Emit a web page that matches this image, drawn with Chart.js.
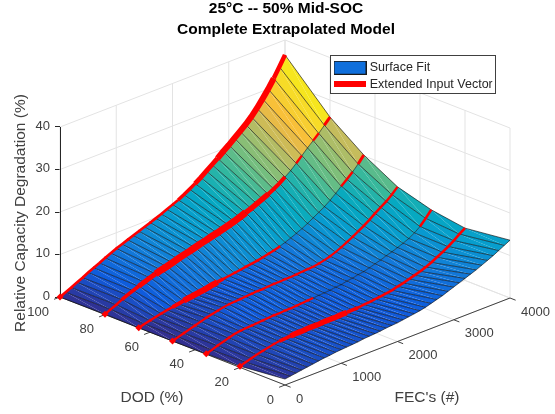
<!DOCTYPE html>
<html><head><meta charset="utf-8">
<style>html,body{margin:0;padding:0;background:#fff}canvas{display:block}</style>
<script src="https://cdn.jsdelivr.net/npm/chart.js@4"></script>
</head><body><canvas id="c" width="555" height="414"></canvas>
<script>
// ---- data ----
const fecGrid=[0,100,200,300,400,500,600,700,800,900,1000,1100,1200,1300,1400,1500,1600,1700,1800,1900,2000,2100,2200,2300,2400,2500,2600,2700,2800,2900,3000,3100,3200,3300,3400,3500,3600,3700,3800,3900,4000];
const dodGrid=[100,80,65,50,35,20,0];
const z100=[0,.6,1.2,1.9,2.5,3.2,3.8,4.4,5.1,5.7,6.3,6.8,7.3,7.8,8.3,8.8,9.3,9.8,10.3,10.9,11.5,12.1,12.8,13.6,14.4,15.3,16.3,17.3,18.3,19.4,20.4,21.5,22.6,23.7,25,26.5,28.2,30,32,34.2,36.5];
const z80=[.1,.7,1.3,2,2.6,3.1,3.6,4.1,4.6,5,5.4,5.7,6.1,6.5,6.9,7.2,7.6,8,8.3,8.7,9,9.4,9.8,10.2,10.7,11.2,11.7,12.3,12.9,13.5,14.2,15,16,17,18.2,19.5,20.8,22,23.2,24.6,26];
const z65=[0,.4,.7,1,1.3,1.6,1.8,2,2.3,2.5,2.7,2.9,3.1,3.4,3.6,3.8,4,4.2,4.4,4.6,4.8,5,5.3,5.6,5.9,6.3,6.8,7.3,7.9,8.5,9.2,10,10.8,11.6,12.6,13.7,14.9,16,17.2,18.6,20.2];
const z50=[0,.4,.8,1.2,1.6,2,2.4,2.7,3,3.3,3.5,3.6,3.7,3.8,3.9,4,4,4.1,4.2,4.2,4.3,4.3,4.4,4.5,4.6,4.7,4.9,5.2,5.6,6.1,6.7,7.4,8.1,8.9,9.7,10.6,11.6,12.5,13.4,14.5,15.8];
const z35=[.1,.5,1,1.4,1.8,2.2,2.4,2.5,2.6,2.7,2.8,2.9,3,3,3.1,3.1,3.2,3.3,3.4,3.5,3.6,3.7,3.8,4,4.1,4.4,4.6,4.9,5.1,5.5,5.9,6.3,6.8,7.2,7.7,8.2,8.8,9.6,10.6,12,13.5];
const z20=[.3,.7,1.1,1.5,1.8,2.1,2.4,2.6,2.7,2.8,2.9,2.9,3,3,3,3.1,3.1,3.1,3.2,3.2,3.3,3.3,3.5,3.6,3.8,3.9,4.1,4.3,4.7,5,5.4,5.8,6.2,6.7,7.3,8,8.7,9.5,10.4,11.4,12.3];
const z0=[1.4,1.6,1.8,2,2.2,2.4,2.6,2.8,2.9,3.1,3.2,3.3,3.4,3.5,3.7,3.8,3.9,4,4.2,4.3,4.4,4.6,4.8,5,5.2,5.5,5.9,6.3,6.7,7.2,7.7,8.2,8.7,9.2,9.7,10.3,10.9,11.5,12.2,12.9,13.6];
const zRows=[z100,z80,z65,z50,z35,z20,z0];
const dodTicks=[100,80,60,40,20,0];
const fecTicks=[0,1000,2000,3000,4000];
const zTicks=[0,10,20,30,40];
const titleLines=["25°C -- 50% Mid-SOC","Complete Extrapolated Model"];
const legendNames=["Surface Fit","Extended Input Vector"];
// sections of the input vector that show above the surface: [DOD, from FEC, to FEC, line width, notched]
const redRuns=[[100,0,2100,2.6,1],[100,2100,2400,3.4,0],[100,2400,2800,4.8,0],[100,2800,3800,6,0],[100,3800,4000,4.5,0],
 [80,0,300,2.4,1],[80,300,600,3.6,0],[80,600,900,5,0],[80,900,2500,7,0],[80,2500,2900,5.5,0],[80,2900,3250,4,0],[80,3400,3500,2.4,0],[80,3700,3800,2.4,0],[80,3900,4000,3,0],
 [65,0,600,2.4,1],[65,600,800,4,0],[65,800,1400,6,0],[65,1400,1500,3.6,0],[65,1500,2500,2.4,1],[65,3600,3800,2.4,0],[65,3900,4000,3,0],
 [50,0,3300,2.2,1],[50,3300,4000,2.4,0],
 [35,0,1900,2.2,1],[35,3800,4000,2.6,0],
 [20,0,700,2.2,1],[20,700,900,3.6,0],[20,900,1900,5.5,0],[20,1900,2100,3.6,0],[20,2100,4000,2.6,0]];
const markerDods=[100,80,65,50,35,20];
// ---- view: orthographic projection of (DOD,FEC,z) into chart units ----
const DX=2.25, FX=0.05625, DY=0.88/4.25, FY=0.02175/4.25;
const px=(d,f)=>DX*(100-d)+FX*f;
const py=(d,f,z)=>z-DY*(100-d)+FY*f;
const pt=(d,f,z)=>({x:px(d,f),y:py(d,f,z)});
const parula=[[53,42,135],[15,92,221],[18,125,216],[7,156,207],[6,169,193],[48,183,160],[124,191,123],[190,188,96],[248,186,61],[247,212,45],[246,230,30]];
function colourOf(z){const t=Math.min(.9999,Math.max(0,z/36.5))*10,i=Math.floor(t),u=t-i,a=parula[i],b=parula[i+1];
 return `rgb(${a.map((v,k)=>Math.round(v+(b[k]-v)*u)).join(',')})`;}
const ds=[];
function line(points,color,width,extra){ds.push(Object.assign({data:points,showLine:true,borderColor:color,borderWidth:width,pointRadius:0,fill:false,clip:false,tension:0},extra||{}));}
const wall='#e3e3e3';
// floor + walls
fecTicks.forEach(f=>{line([pt(0,f,0),pt(100,f,0),pt(100,f,40)],wall,1);});
dodTicks.forEach(d=>{line([pt(d,0,0),pt(d,4000,0),pt(d,4000,40)],wall,1);});
zTicks.forEach(z=>{line([pt(100,0,z),pt(100,4000,z),pt(0,4000,z)],wall,1);});
// axes
line([pt(100,0,0),pt(0,0,0),pt(0,4000,0)],'#404040',1);
line([{x:.5,y:0},{x:.5,y:40}],'#262626',1);
dodTicks.forEach(d=>line([pt(d,0,0),pt(d,-105,0)],'#404040',1));
fecTicks.forEach(f=>line([pt(0,f,0),pt(-2.5,f,0)],'#404040',1));
// surface: flat-shaded facets, far side first
for(let r=0;r<dodGrid.length-1;r++){
 for(let j=fecGrid.length-2;j>=0;j--){
  const d0=dodGrid[r],d1=dodGrid[r+1],f0=fecGrid[j],f1=fecGrid[j+1];
  const col=colourOf(zRows[r][j+1]);
  const A=pt(d0,f0,zRows[r][j]),B=pt(d0,f1,zRows[r][j+1]),C=pt(d1,f1,zRows[r+1][j+1]),D=pt(d1,f0,zRows[r+1][j]);
  const opt={backgroundColor:col,fill:'shape'};
  line([A,B,D,A],'transparent',0,opt);
  line([B,C,D,B],'transparent',0,opt);
 }
}
// mesh lines
fecGrid.forEach((f,j)=>line(dodGrid.map((d,r)=>pt(d,f,zRows[r][j])),'rgba(0,0,0,.75)',.8));
dodGrid.forEach((d,r)=>line(fecGrid.map((f,j)=>pt(d,f,zRows[r][j])),'rgba(0,0,0,.7)',.8));
// input vector
redRuns.forEach(([d,a,b,w,n])=>{const r=dodGrid.indexOf(d);
 const pts=[];fecGrid.forEach((f,j)=>{if(f>=a&&f<=b)pts.push(pt(d,f,zRows[r][j]));});
 line(pts,'#ff0000',w,n?{pointRadius:c=>(c.dataIndex%2?0:1.9),pointBackgroundColor:'#ff0000',pointBorderWidth:0,pointStyle:'triangle'}:{});
});
line(markerDods.map(d=>pt(d,0,zRows[dodGrid.indexOf(d)][0])),'transparent',0,{showLine:false,pointRadius:3.5,pointStyle:'rectRot',pointBackgroundColor:'#ff0000',pointBorderWidth:0});
ds.reverse(); // Chart.js paints dataset 0 last

function swatch(w,h,fill,stroke){const c=document.createElement('canvas');c.width=w;c.height=h;const g=c.getContext('2d');g.fillStyle=fill;g.fillRect(0,0,w,h);if(stroke){g.strokeStyle=stroke;g.lineWidth=1;g.strokeRect(.5,.5,w-1,h-1);}return c;}
const swatches=[swatch(33,14,'#0f6fdc','#1a1a1a'),swatch(32,6,'#ff0000')];

const labels3d={id:'labels3d',
 beforeLayout(chart){const L=chart.legend;if(L)L._layers=()=>[{z:5,draw(a){const c=chart.ctx;c.save();c.fillStyle='#fff';c.strokeStyle='#404040';c.lineWidth=1;c.fillRect(330.5,55.5,165,38);c.strokeRect(330.5,55.5,165,38);c.restore();L.draw(a);}}];},
 afterLayout(chart){const L=chart.legend;L.left=332.5;L.top=57.5;L.right=L.left+160;L.bottom=L.top+60;L.width=160;L.height=60;},
 afterDraw(chart){const c=chart.ctx,X=chart.scales.x,Y=chart.scales.y;c.save();c.fillStyle='#404040';c.textBaseline='middle';c.font='13px "Liberation Sans"';
  c.textAlign='right';dodTicks.forEach(d=>c.fillText(String(d),X.getPixelForValue(px(d,0))-11,Y.getPixelForValue(py(d,0,0))+15));
  c.textAlign='left';fecTicks.forEach(f=>c.fillText(String(f),X.getPixelForValue(px(0,f))+11,Y.getPixelForValue(py(0,f,0))+14));
  c.font='15.5px "Liberation Sans"';c.textAlign='center';c.fillText('DOD (%)',152,398);c.fillText("FEC's (#)",427,398);c.restore();}
};
new Chart(document.getElementById('c'),{type:'scatter',data:{datasets:ds},plugins:[labels3d],options:{
 responsive:false,animation:false,events:[],
 layout:{padding:{left:0,right:43,top:0,bottom:28}},
 scales:{
  x:{type:'linear',display:false,min:0,max:452},
  y:{type:'linear',min:(297-386)/4.25,max:(297-40)/4.25,
   afterBuildTicks:s=>{s.ticks=zTicks.map(v=>({value:v}));},
   afterFit:s=>{s.width=60;},
   border:{display:false},
   grid:{drawOnChartArea:false,drawTicks:true,tickLength:5,tickColor:'#262626',color:'#262626'},
   ticks:{padding:5,color:'#404040',labelOffset:-1,font:{family:'"Liberation Sans"',size:13},autoSkip:false},
   title:{display:true,text:'Relative Capacity Degradation (%)',color:'#404040',font:{family:'"Liberation Sans"',size:15.5},padding:{top:11,bottom:0}}
  }},
 plugins:{tooltip:{enabled:false},
  title:{display:true,fullSize:false,text:titleLines,color:'#000',font:{family:'"Liberation Sans"',size:15.5,weight:'bold',lineHeight:21/15.5},padding:{top:-1.5,bottom:-.5}},
  legend:{display:true,position:'chartArea',align:'start',labels:{usePointStyle:true,pointStyleWidth:27,padding:4,color:'#262626',font:{family:'"Liberation Sans"',size:12.5},
   generateLabels:()=>legendNames.map((t,i)=>({text:t,pointStyle:swatches[i],fillStyle:'#fff',strokeStyle:'#fff',lineWidth:0,fontColor:'#262626',datasetIndex:i}))}}
 }}});
</script></body></html>
